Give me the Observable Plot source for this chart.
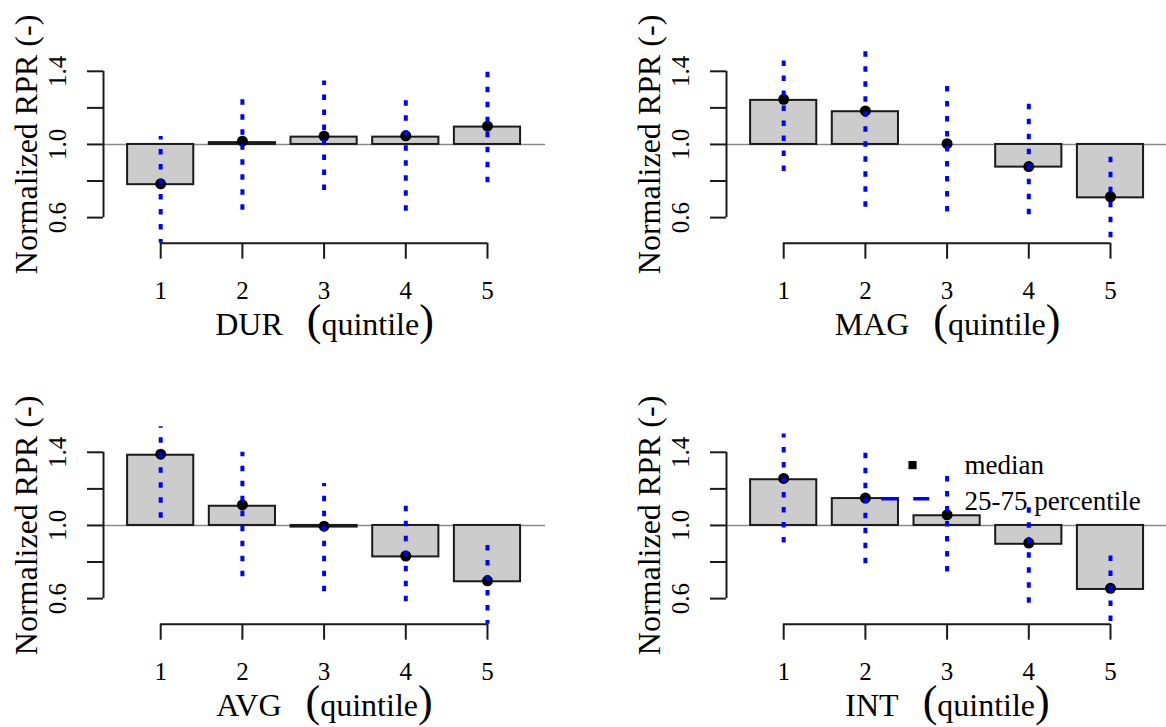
<!DOCTYPE html>
<html><head><meta charset="utf-8">
<script src="https://cdn.jsdelivr.net/npm/d3@7"></script>
<script src="https://cdn.jsdelivr.net/npm/@observablehq/plot@0.6"></script>
<style>
html,body{margin:0;padding:0;background:#fff;overflow:hidden;width:1166px;height:727px}
#wrap{position:relative;width:1166px;height:727px;overflow:hidden}
.panel{position:absolute;width:622px;height:381px}
.panel svg{overflow:visible;max-width:none !important;width:622px;height:381px}
</style></head><body><div id="wrap"></div>
<script>
// ---- data ----
const quintiles = [1, 2, 3, 4, 5];
const yTicks = [0.6, 0.8, 1.0, 1.2, 1.4];
const yTickLabels = [0.6, 1.0, 1.4];
const yLabel = "Normalized RPR (-)";
const xSuffix = "(quintile)";
const legendLabels = ["median", "25-75 percentile"];

const durMean = [0.78, 1.01, 1.04, 1.04, 1.095];
const durMedian = [0.785, 1.018, 1.046, 1.047, 1.10];
const durQ25 = [0.45, 0.64, 0.748, 0.635, 0.79];
const durQ75 = [1.044, 1.254, 1.347, 1.24, 1.396];

const magMean = [1.241, 1.179, 1.0, 0.876, 0.708];
const magMedian = [1.247, 1.183, 1.004, 0.879, 0.714];
const magQ25 = [0.852, 0.656, 0.63, 0.616, 0.49];
const magQ75 = [1.46, 1.515, 1.327, 1.223, 0.93];

const avgMean = [1.384, 1.105, 0.991, 0.828, 0.692];
const avgMedian = [1.39, 1.112, 0.996, 0.833, 0.697];
const avgQ25 = [1.04, 0.72, 0.638, 0.583, 0.45];
const avgQ75 = [1.56, 1.40, 1.23, 1.105, 0.90];

const intMean = [1.25, 1.147, 1.053, 0.897, 0.65];
const intMedian = [1.257, 1.15, 1.058, 0.904, 0.656];
const intQ25 = [0.904, 0.79, 0.746, 0.575, 0.475];
const intQ75 = [1.50, 1.40, 1.28, 1.10, 0.84];

// legend anchor in data units (like R's legend(x, y))
const legendAt = {x: 2.2, y: 1.33};

// ---- drawing ----
const xDomain = [0.3, 5.71];
const yDomain = [0.46, 1.54];
const FONT = "Liberation Serif";

function panel(name, mean, med, lo, hi, left, top, withLegend) {
  const data = quintiles.map((q, i) => ({q, mean: mean[i], med: med[i], lo: lo[i], hi: hi[i]}));
  const marks = [
    Plot.ruleY([1], {stroke: "#8a8a8a", strokeWidth: 1.5}),
    Plot.rect(data, {x1: d => d.q - 0.405, x2: d => d.q + 0.405, y1: 1, y2: "mean",
      fill: "#cccccc", stroke: "#1a1a1a", strokeWidth: 2}),
    Plot.dot(data, {x: "q", y: "med", r: 5.5, fill: "#000", stroke: "none"}),
    Plot.ruleX(data, {x: "q", y1: "lo", y2: "hi", stroke: "#0000ff", strokeWidth: 4,
      strokeDasharray: "5.5,9.5", clip: true}),
    Plot.ruleX([xDomain[0]], {y1: yTicks[0], y2: yTicks[yTicks.length - 1], stroke: "#1a1a1a", strokeWidth: 2}),
    Plot.ruleY([yDomain[0]], {x1: quintiles[0], x2: quintiles[quintiles.length - 1], stroke: "#1a1a1a", strokeWidth: 2}),
    Plot.axisY({ticks: yTicks, tickSize: 16, tickFormat: () => "", label: null, stroke: "#1a1a1a", strokeWidth: 2}),
    Plot.axisX({ticks: quintiles, tickSize: 16, tickFormat: () => "", label: null, stroke: "#1a1a1a", strokeWidth: 2}),
    Plot.text(yTickLabels, {y: d => d, text: d => d.toFixed(1), frameAnchor: "left", dx: -38,
      rotate: -90, textAnchor: "middle", lineAnchor: "bottom", fontSize: 25, fill: "#000"}),
    Plot.text(quintiles, {x: d => d, text: d => String(d), frameAnchor: "bottom", dy: 56,
      textAnchor: "middle", lineAnchor: "bottom", fontSize: 25, fill: "#000"}),
    Plot.text([yLabel], {text: d => d, frameAnchor: "left", dx: -67, rotate: -90,
      textAnchor: "middle", lineAnchor: "bottom", fontSize: 32, fill: "#000"}),
    Plot.text([name + " " + xSuffix], {text: d => d, frameAnchor: "bottom", dy: 92,
      textAnchor: "middle", lineAnchor: "bottom", fontSize: 32, fill: "#000"})
  ];
  if (withLegend) {
    const sq = {x: legendAt.x + 0.377, y: legendAt.y};
    const lineY = legendAt.y - 0.184;
    marks.push(
      Plot.dot([legendLabels[0]], {x: sq.x, y: sq.y, symbol: "square", r: 4.6, fill: "#000", stroke: "none"}),
      Plot.ruleY([lineY], {x1: legendAt.x, x2: legendAt.x + 0.59, stroke: "#0000ff", strokeWidth: 3.5, strokeDasharray: "16,16"}),
      Plot.text([legendLabels[0]], {x: legendAt.x + 1.013, y: legendAt.y - 0.051, text: d => d,
        textAnchor: "start", lineAnchor: "bottom", fontSize: 27, fill: "#000"}),
      Plot.text([legendLabels[1]], {x: legendAt.x + 1.013, y: legendAt.y - 0.248, text: d => d,
        textAnchor: "start", lineAnchor: "bottom", fontSize: 27, fill: "#000"})
    );
  }
  const svg = Plot.plot({
    width: 622, height: 381,
    marginLeft: 103, marginRight: 77, marginTop: 45.2, marginBottom: 138.3,
    x: {domain: xDomain}, y: {domain: yDomain},
    style: {fontFamily: FONT, color: "#000", background: "transparent", maxWidth: "none"},
    marks
  });
  // big parentheses like R plotmath bgroup
  const title = name + " " + xSuffix;
  const t = [...svg.querySelectorAll("text")].find(e => e.textContent === title);
  if (t) {
    t.textContent = "";
    const ns = "http://www.w3.org/2000/svg";
    const add = (s, size, dx) => {
      const ts = document.createElementNS(ns, "tspan");
      ts.textContent = s;
      if (size) ts.setAttribute("font-size", size);
      if (dx) ts.setAttribute("dx", dx);
      t.appendChild(ts);
    };
    add(name); add("(", 44, 24); add(xSuffix.slice(1, -1)); add(")", 44);
  }
  const div = document.createElement("div");
  div.className = "panel";
  div.style.left = left + "px";
  div.style.top = top + "px";
  div.appendChild(svg);
  document.getElementById("wrap").appendChild(div);
}

panel("DUR", durMean, durMedian, durQ25, durQ75, 0, 0, false);
panel("MAG", magMean, magMedian, magQ25, magQ75, 622.5, 0, false);
panel("AVG", avgMean, avgMedian, avgQ25, avgQ75, 0, 380.7, false);
panel("INT", intMean, intMedian, intQ25, intQ75, 622.5, 380.7, true);
</script>
</body></html>
